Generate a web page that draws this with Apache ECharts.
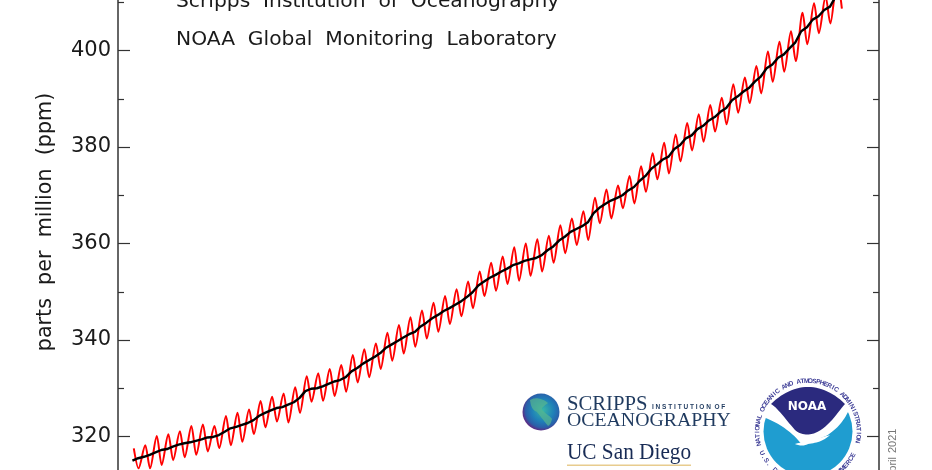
<!DOCTYPE html>
<html>
<head>
<meta charset="utf-8">
<style>html,body{margin:0;padding:0;background:#fff;overflow:hidden}#c{width:932px;height:470px;filter:blur(0.35px)}</style>
<script src="https://cdn.jsdelivr.net/npm/echarts@6/dist/echarts.min.js"></script>
</head>
<body>
<div id="c"></div>
<script>
// Seasonal maxima (about May) and minima (about Oct) of monthly CO2, ppm, one per year from 1958
const firstYear = 1958;
const peakPpm = [317.55,318.2,320.1,320.45,321.1,322.2,322.5,322.2,324.25,324.9,325.6,327.35,328.25,328.9,330.2,332.5,333.1,334.0,334.8,336.9,338.1,339.3,341.5,343.1,344.7,346.1,347.7,349.1,350.5,352.1,354.2,356.0,357.3,359.2,360.0,360.9,361.6,363.8,365.2,366.7,369.5,371.2,372.0,374.0,376.0,378.7,380.9,382.6,385.0,386.8,388.7,390.2,393.0,394.4,396.8,399.8,401.8,404.0,407.8,409.8,411.2,414.7];
const troughPpm = [313.4,313.4,314.1,315.1,315.7,316.2,316.9,317.6,318.2,318.9,320.5,321.9,323.1,322.9,324.9,327.2,327.4,328.4,329.3,331.2,332.3,334.0,335.7,337.2,338.6,340.3,341.7,343.3,344.9,346.6,349.1,350.2,351.6,352.3,353.3,354.2,356.0,358.0,359.7,360.7,364.2,365.2,367.3,368.3,370.7,373.3,374.5,377.0,379.3,381.1,383.2,384.7,387.1,389.1,391.1,393.5,395.6,397.8,401.3,403.6,405.6,408.7];
// Seasonally corrected curve, two readings per year (spring, autumn) from 1958
const trendPpm = [315.0,315.5,315.8,316.2,316.7,317.2,317.4,317.9,318.3,318.6,318.8,319.1,319.4,319.8,319.9,320.3,321.0,321.7,322.0,322.4,322.8,323.4,324.3,324.9,325.4,325.9,326.1,326.6,327.1,328.0,329.4,329.9,330.0,330.4,330.9,331.4,331.7,332.3,333.5,334.2,335.1,335.8,336.5,337.3,338.4,339.1,339.8,340.5,341.2,341.7,342.8,343.6,344.5,345.2,346.0,346.6,347.3,348.0,348.9,349.9,351.3,352.1,352.9,353.5,354.2,354.8,355.5,355.9,356.4,356.7,357.0,357.6,358.6,359.4,360.6,361.4,362.4,363.0,363.6,364.4,366.3,367.4,368.2,368.9,369.4,370.0,371.0,371.7,373.0,374.0,375.5,376.4,377.4,378.0,379.6,380.4,381.8,382.4,383.7,384.4,385.5,386.2,387.3,388.1,389.7,390.5,391.5,392.3,393.6,394.6,396.3,397.1,398.5,399.2,400.5,401.7,404.0,404.8,406.4,407.1,408.4,409.1,411.2,412.1];
const yTitle = 'parts  per  million  (ppm)';
const noteLines = ['Scripps  Institution  of  Oceanography', 'NOAA  Global  Monitoring  Laboratory'];

const seasonal = [];
peakPpm.forEach((v, i) => {
  seasonal.push([firstYear + i + 0.37, v]);
  seasonal.push([firstYear + i + 0.78, troughPpm[i]]);
});
const trend = trendPpm.map((v, i) => [firstYear + 0.25 + i * 0.5, v]);

const font = '"DejaVu Sans"';
const navy = '#1f3a5f';
const gfx = [];
function txt(x, y, text, size, fill) {
  gfx.push({type:'text', x, y, silent:true,
    style:{text, fontSize:size, fontFamily:font, fill, textAlign:'left', textVerticalAlign:'middle'}});
}
// logo outlines: tiny path reader (M L C Z, absolute) that returns polygon points
function outline(d) {
  const t = d.trim().split(/\s+/), pts = []; let i = 0, cur = [0,0], cmd = '';
  const num = () => parseFloat(t[i++]);
  while (i < t.length) {
    if (/^[MLCZ]$/.test(t[i])) cmd = t[i++];
    if (cmd === 'Z') break;
    if (cmd === 'M' || cmd === 'L') { cur = [num(), num()]; pts.push(cur); }
    else if (cmd === 'C') {
      const a = [num(),num()], b = [num(),num()], c = [num(),num()];
      for (let k = 1; k <= 14; k++) {
        const u = k/14, v = 1-u;
        pts.push([v*v*v*cur[0]+3*v*v*u*a[0]+3*v*u*u*b[0]+u*u*u*c[0], v*v*v*cur[1]+3*v*v*u*a[1]+3*v*u*u*b[1]+u*u*u*c[1]]);
      }
      cur = c;
    }
  }
  return pts;
}
function shape(d, fill, opacity) {
  gfx.push({type:'polygon', silent:true, shape:{points:outline(d)}, style:{fill, opacity: opacity == null ? 1 : opacity}});
}
txt(176, 2, noteLines[0], 20.25, '#1a1a1a');
txt(176, 40, noteLines[1], 20.25, '#1a1a1a');
gfx.push({type:'text', x:46, y:222, rotation:Math.PI/2, silent:true,
  style:{text:yTitle, fontSize:20.7, fontFamily:font, fill:'#1a1a1a', textAlign:'center', textVerticalAlign:'middle'}});
gfx.push({type:'text', x:893, y:453, rotation:Math.PI/2, silent:true,
  style:{text:'2021', fontSize:11, fontFamily:'"Liberation Sans"', fill:'#777', textAlign:'left', textVerticalAlign:'middle'}});
gfx.push({type:'text', x:893, y:457, rotation:Math.PI/2, silent:true,
  style:{text:'April', fontSize:11, fontFamily:'"Liberation Sans"', fill:'#777', textAlign:'right', textVerticalAlign:'middle'}});

// Scripps logo
gfx.push({type:'circle', shape:{cx:541,cy:412,r:18.5}, silent:true, style:{fill:{type:'radial',x:0.55,y:0.45,r:0.55,colorStops:[
  {offset:0,color:'#37b6a6'},{offset:0.55,color:'#1f7fb8'},{offset:0.85,color:'#2b5ea8'},{offset:1,color:'#5a2f86'}]}}});
shape('M 530 400 C 535 397 542 398 548 403 C 544 406 541 408 542 410 C 546 414 550 416 552 419 C 551 423 550 425 548 426 C 545 422 540 416 537 412 C 533 410 531 408 530 400 Z', '#57b78f', 0.7);
const serif = '"Liberation Serif"';
gfx.push({type:'text', x:567, y:415, silent:true, style:{text:'SCRIPPS', fontSize:20.7, fontFamily:serif, fill:navy, textAlign:'left', textVerticalAlign:'bottom'}});
gfx.push({type:'text', x:652, y:411, silent:true, style:{text:'I N S T I T U T I O N  O F', fontSize:6.5, fontWeight:'bold', fontFamily:'"Liberation Sans"', fill:navy, textAlign:'left', textVerticalAlign:'bottom'}});
gfx.push({type:'text', x:567, y:431, silent:true, style:{text:'OCEANOGRAPHY', fontSize:19.8, fontFamily:serif, fill:navy, textAlign:'left', textVerticalAlign:'bottom'}});
gfx.push({type:'text', x:567, y:464.5, scaleX:0.925, silent:true, style:{text:'UC San Diego', fontSize:23, fontFamily:serif, fill:'#182b55', textAlign:'left', textVerticalAlign:'bottom'}});
gfx.push({type:'rect', shape:{x:567,y:464.5,width:124,height:1.5}, silent:true, style:{fill:'#e8cc8e'}});

// NOAA logo
const ncx = 808, ncy = 431.5;
gfx.push({type:'circle', shape:{cx:ncx,cy:ncy,r:44.5}, silent:true, style:{fill:'#1f9dd0'}});
shape('M 760 380 L 856 380 L 856 410 L 848 412 C 843 422 836 430 826 436 L 802 445 C 795 435 782 424 763 417 L 760 417 Z', '#fff');
shape('M 771 404 C 782 393 795 387 808 387 C 821 387 834 393 845 404 C 838 412 828 428 815 433 C 810 435 802 436 795 430 C 786 420 778 408 771 404 Z', '#2b2a7e');
shape('M 795 444 C 806 441 820 438 830 435 C 824 441 816 443 808 444 C 804 446 800 446 795 444 Z', '#fff');
gfx.push({type:'text', x:807, y:407, silent:true, style:{text:'NOAA', fontSize:12, fontWeight:'bold', fontFamily:'"DejaVu Sans"', fill:'#fff', textAlign:'center', textVerticalAlign:'middle'}});
function arcText(text, startDeg, stepDeg, r, bottom) {
  [...text].forEach((ch, i) => {
    const a = (startDeg + i * stepDeg) * Math.PI / 180;
    gfx.push({type:'text', x: ncx + r * Math.cos(a), y: ncy + r * Math.sin(a), silent:true,
      rotation: bottom ? -(a - Math.PI/2) : -(a + Math.PI/2),
      style:{text:ch, fontSize:6.5, fontWeight:'bold', fontFamily:'"Liberation Sans"', fill:'#3d3d96', textAlign:'center', textVerticalAlign:'middle'}});
  });
}
arcText('NATIONAL OCEANIC AND ATMOSPHERIC ADMINISTRATION', 166, 4.45, 50.5, false);
arcText('U.S. DEPARTMENT OF COMMERCE', 155, -4.9, 51, true);

const chart = echarts.init(document.getElementById('c'), null, {renderer:'canvas'});
const axisCommon = {
  type:'value', min:300, max:420, interval:20, scale:false,
  axisLine:{show:true, onZero:false, lineStyle:{color:'#333', width:1.5}},
  axisTick:{show:true, inside:true, length:12, lineStyle:{color:'#333', width:1.2}},
  minorTick:{show:true, splitNumber:2, length:6, lineStyle:{color:'#333', width:1.2}},
  splitLine:{show:false}, minorSplitLine:{show:false}
};
chart.setOption({
  animation:false,
  backgroundColor:'#fff',
  grid:{left:118, right:53, top:-46, height:579, containLabel:false, outerBoundsMode:'none'},
  xAxis:{type:'value', min:1957, max:2023, show:false},
  yAxis:[
    Object.assign({}, axisCommon, {position:'left', axisLabel:{show:true, margin:7, fontSize:21, fontFamily:font, color:'#1a1a1a', hideOverlap:false}}),
    Object.assign({}, axisCommon, {position:'right', axisLabel:{show:false}})
  ],
  series:[
    {name:'Monthly', type:'line', data:seasonal, showSymbol:false, smooth:0.3, smoothMonotone:'x', lineStyle:{color:'#ff0000', width:2}, z:2},
    {name:'Trend', type:'line', data:trend, showSymbol:false, lineStyle:{color:'#000', width:2.4}, z:3}
  ],
  graphic:{elements:gfx}
});
</script>
</body>
</html>
